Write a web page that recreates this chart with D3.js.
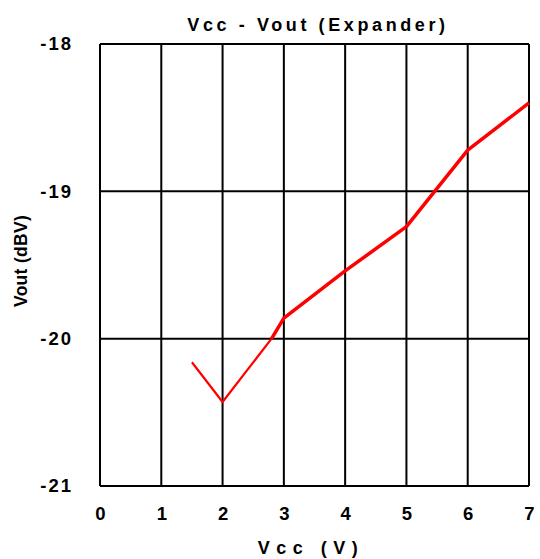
<!DOCTYPE html>
<html><head><meta charset="utf-8">
<script src="https://cdn.jsdelivr.net/npm/d3@7"></script>
<style>body{margin:0;background:#fff}svg{display:block}text{font-family:"Liberation Sans",Arial,sans-serif;font-weight:bold;fill:#000}</style>
</head><body>
<script>
const xTicks = [0,1,2,3,4,5,6,7];
const yTicks = [-18,-19,-20,-21];
const segLowX = [1.5, 2, 2.8];
const segLowY = [-20.16, -20.43, -20.0];
const segHighX = [2.8, 3, 4, 5, 6, 7];
const segHighY = [-20.0, -19.86, -19.54, -19.24, -18.72, -18.40];

const W=540,H=559;
const svg=d3.select("body").append("svg").attr("width",W).attr("height",H);
const x=d3.scaleLinear().domain([0,7]).range([100,529]);
const y=d3.scaleLinear().domain([-21,-18]).range([486,44]);
const FF="Liberation Sans, Arial, sans-serif";

const g=svg.append("g");
g.selectAll("line.v").data(xTicks).join("line")
 .attr("x1",d=>x(d)).attr("x2",d=>x(d)).attr("y1",y(-18)).attr("y2",y(-21))
 .attr("stroke","#000").attr("stroke-width",2);
g.selectAll("line.h").data(yTicks).join("line")
 .attr("y1",d=>y(d)).attr("y2",d=>y(d)).attr("x1",x(0)).attr("x2",x(7))
 .attr("stroke","#000").attr("stroke-width",2);

const xa=svg.append("g").attr("transform",`translate(0,${y(-21)})`)
 .call(d3.axisBottom(x).tickValues(xTicks).tickFormat(d3.format("d")).tickSize(0).tickPadding(21));
xa.select(".domain").remove();
xa.selectAll("text").attr("font-size",18.5).attr("font-family",FF).attr("font-weight","bold");
const ya=svg.append("g").attr("transform",`translate(${x(0)},0)`)
 .call(d3.axisLeft(y).tickValues(yTicks).tickSize(0).tickPadding(27).tickFormat(d=>"-"+Math.abs(d)));
ya.select(".domain").remove();
ya.selectAll("text").attr("font-size",18.5).attr("letter-spacing",2).attr("font-family",FF).attr("font-weight","bold");

const line=d3.line().x(d=>x(d[0])).y(d=>y(d[1]));
svg.append("path").datum(segLowX.map((v,i)=>[v,segLowY[i]]))
 .attr("d",line).attr("fill","none").attr("stroke","#ff0000").attr("stroke-width",2.2).attr("stroke-linejoin","round");
svg.append("path").datum(segHighX.map((v,i)=>[v,segHighY[i]]))
 .attr("d",line).attr("fill","none").attr("stroke","#ff0000").attr("stroke-width",3.5).attr("stroke-linejoin","round");

svg.append("text").attr("x",318).attr("y",31).attr("text-anchor","middle")
 .attr("font-size",18).attr("letter-spacing",3.6).text("Vcc - Vout (Expander)");
svg.append("text").attr("x",311).attr("y",554).attr("text-anchor","middle")
 .attr("font-size",18).attr("letter-spacing",6.5).text("Vcc (V)");
svg.append("text").attr("transform","translate(27,261) rotate(-90)").attr("text-anchor","middle")
 .attr("font-size",17.5).attr("letter-spacing",0.3).text("Vout (dBV)");
</script>
</body></html>
